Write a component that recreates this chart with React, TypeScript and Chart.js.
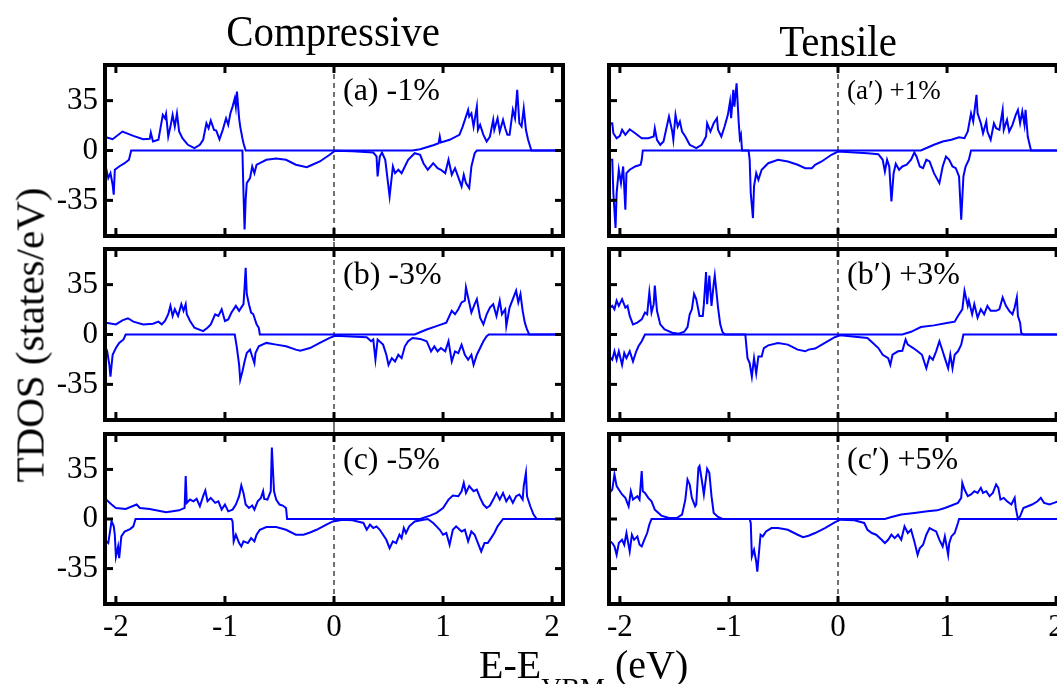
import React, { useEffect, useRef } from 'react';
import { Chart, registerables } from 'chart.js';
Chart.register(...registerables);

// ---------- axes ----------
const E_MIN = -2.1;
const E_MAX = 2.1;
const DOS_MIN = -60;
const DOS_MAX = 60;
const xTickValues = [-2, -1, 0, 1, 2];
const yTickValues = [-35, 0, 35];

// ---------- data: [E - E_VBM (eV), TDOS (states/eV)] ----------
const aUp = [[-2.1,9.3],[-2.09,9.3],[-2.03,7.9],[-1.94,13.3],[-1.84,10.3],[-1.75,7.9],[-1.69,8.2],[-1.68,12.6],[-1.66,6.3],[-1.61,7.5],[-1.57,25.0],[-1.55,22.6],[-1.54,25.7],[-1.52,9.8],[-1.50,16.8],[-1.48,25.0],[-1.46,16.8],[-1.44,26.1],[-1.42,13.3],[-1.39,8.6],[-1.34,4.0],[-1.28,1.6],[-1.23,4.0],[-1.20,7.5],[-1.17,19.1],[-1.15,15.6],[-1.13,21.0],[-1.10,14.5],[-1.08,14.0],[-1.05,7.9],[-1.02,14.5],[-0.99,22.6],[-0.97,18.0],[-0.95,26.1],[-0.93,30.8],[-0.91,36.6],[-0.90,30.8],[-0.89,41.3],[-0.87,22.6],[-0.86,16.8],[-0.84,8.6],[-0.83,5.1],[-0.81,0],[0.72,0],[0.79,0.9],[0.91,3.7],[0.96,5.1],[0.97,9.8],[0.98,5.6],[1.06,7.5],[1.15,11.0],[1.18,16.8],[1.23,28.5],[1.24,23.8],[1.26,26.1],[1.28,16.8],[1.31,30.8],[1.32,14.5],[1.34,18.0],[1.37,11.0],[1.40,6.3],[1.43,9.8],[1.46,21.5],[1.47,14.5],[1.50,22.6],[1.52,13.3],[1.55,21.5],[1.57,15.6],[1.59,11.0],[1.61,11.0],[1.64,28.5],[1.66,22.6],[1.68,42.5],[1.70,19.1],[1.72,16.8],[1.74,29.6],[1.76,14.5],[1.78,7.5],[1.81,0],[2.1,0]];
const aDown = [[-2.1,-12.4],[-2.09,-12.4],[-2.07,-19.4],[-2.05,-15.9],[-2.03,-24.0],[-2.02,-31.0],[-2.01,-13.5],[-1.97,-11.2],[-1.92,-8.9],[-1.88,-6.5],[-1.86,0],[-0.84,0],[-0.83,-29.9],[-0.82,-55.5],[-0.81,-34.5],[-0.80,-22.9],[-0.77,-19.4],[-0.75,-11.2],[-0.73,-15.9],[-0.71,-10.0],[-0.68,-8.9],[-0.62,-6.5],[-0.53,-5.6],[-0.44,-6.5],[-0.35,-10.0],[-0.25,-11.7],[-0.22,-10.7],[-0.13,-7.7],[-0.04,-3.0],[0.01,-0.2],[0.17,-0.5],[0.36,-1.4],[0.39,-4.2],[0.40,-18.2],[0.42,-4.2],[0.44,-1.4],[0.47,-6.5],[0.51,-32.2],[0.54,-11.2],[0.56,-15.9],[0.59,-13.5],[0.62,-15.9],[0.65,-11.2],[0.68,-6.5],[0.74,-1.9],[0.79,-3.0],[0.82,-8.9],[0.86,-13.5],[0.91,-8.9],[0.95,-12.4],[0.98,-13.5],[1.02,-15.9],[1.05,-6.5],[1.08,-17.0],[1.11,-12.4],[1.17,-25.2],[1.19,-17.0],[1.21,-22.9],[1.24,-26.4],[1.26,-11.2],[1.29,-1.9],[1.31,0],[2.1,0]];

const apUp = [[-2.1,19],[-2.07,19.1],[-2.06,12.1],[-2.03,8.6],[-2.00,10.3],[-1.98,14.5],[-1.95,11.0],[-1.91,14.9],[-1.86,12.1],[-1.80,8.6],[-1.74,8.6],[-1.69,9.8],[-1.68,15.6],[-1.66,7.5],[-1.63,4.0],[-1.60,6.3],[-1.57,16.8],[-1.55,23.8],[-1.52,13.3],[-1.51,7.5],[-1.49,25.0],[-1.47,16.8],[-1.45,20.3],[-1.43,13.3],[-1.40,9.8],[-1.36,4.0],[-1.30,1.6],[-1.25,4.0],[-1.21,9.8],[-1.20,19.1],[-1.17,13.3],[-1.14,19.1],[-1.11,22.6],[-1.10,14.5],[-1.07,9.8],[-1.04,16.8],[-1.01,25.0],[-0.99,34.3],[-0.98,22.6],[-0.96,42.5],[-0.95,30.8],[-0.93,47.1],[-0.91,19.1],[-0.90,8.6],[-0.89,11.0],[-0.88,0],[0.76,0],[0.88,4.0],[0.96,6.3],[1.04,7.5],[1.11,9.3],[1.16,8.6],[1.19,13.3],[1.22,26.1],[1.24,20.3],[1.27,39.0],[1.28,26.1],[1.31,19.1],[1.33,12.1],[1.36,20.3],[1.37,13.3],[1.40,7.5],[1.43,19.1],[1.45,15.6],[1.48,14.5],[1.51,28.5],[1.52,14.5],[1.55,21.5],[1.57,13.3],[1.60,18.0],[1.63,25.0],[1.65,28.5],[1.67,19.1],[1.69,27.3],[1.71,18.0],[1.72,28.5],[1.74,9.8],[1.77,0],[2.1,0]];
const apDown = [[-2.1,-6.5],[-2.07,-6.5],[-2.06,-29.9],[-2.04,-54.4],[-2.03,-29.9],[-2.01,-13.5],[-1.99,-22.9],[-1.97,-11.2],[-1.95,-41.5],[-1.94,-15.9],[-1.91,-13.5],[-1.86,-11.2],[-1.81,-10.0],[-1.80,-6.5],[-1.79,0],[-0.82,0],[-0.81,-6.5],[-0.80,-29.9],[-0.78,-47.4],[-0.77,-25.2],[-0.75,-15.9],[-0.73,-20.5],[-0.70,-13.5],[-0.67,-11.2],[-0.64,-8.9],[-0.55,-6.5],[-0.46,-7.7],[-0.37,-10.0],[-0.30,-12.4],[-0.24,-12.4],[-0.21,-10.0],[-0.15,-7.7],[-0.06,-3.0],[0.00,-0.7],[0.27,-1.9],[0.37,-2.6],[0.41,-6.5],[0.43,-14.7],[0.45,-6.5],[0.47,-11.2],[0.49,-35.7],[0.51,-15.9],[0.53,-9.3],[0.56,-13.5],[0.59,-11.2],[0.63,-10.0],[0.67,-6.5],[0.70,-1.4],[0.72,-4.2],[0.75,-11.2],[0.78,-12.4],[0.81,-6.5],[0.84,-7.7],[0.88,-15.9],[0.93,-22.9],[0.96,-11.2],[0.99,-4.2],[1.02,-6.5],[1.05,-11.2],[1.08,-12.4],[1.11,-18.2],[1.13,-48.5],[1.15,-18.2],[1.17,-11.2],[1.20,-6.5],[1.22,0],[2.1,0]];

const bUp = [[-2.1,8.3],[-2.09,8.3],[-2.00,7.1],[-1.94,9.9],[-1.89,11.4],[-1.84,9.0],[-1.75,7.1],[-1.66,7.6],[-1.61,9.0],[-1.58,7.1],[-1.55,9.5],[-1.52,14.2],[-1.50,20.1],[-1.48,13.0],[-1.46,17.7],[-1.43,13.0],[-1.40,21.3],[-1.38,16.6],[-1.36,21.3],[-1.35,14.2],[-1.32,9.5],[-1.28,4.7],[-1.20,2.4],[-1.16,4.7],[-1.13,7.1],[-1.09,14.2],[-1.06,13.0],[-1.03,17.7],[-1.00,9.5],[-0.97,10.6],[-0.94,15.4],[-0.90,20.1],[-0.87,16.6],[-0.83,21.3],[-0.82,33.1],[-0.81,46.8],[-0.80,28.4],[-0.78,21.3],[-0.76,15.4],[-0.74,14.2],[-0.71,7.1],[-0.69,4.7],[-0.68,0],[0.74,0],[0.85,3.5],[0.94,5.9],[1.03,8.3],[1.08,16.6],[1.11,14.2],[1.14,17.7],[1.17,22.5],[1.20,23.7],[1.21,33.1],[1.24,22.5],[1.26,15.4],[1.29,21.3],[1.31,24.8],[1.34,11.8],[1.37,7.1],[1.40,14.2],[1.43,18.9],[1.46,21.3],[1.49,13.0],[1.52,23.7],[1.54,14.2],[1.57,17.7],[1.58,5.9],[1.61,18.9],[1.64,24.8],[1.67,30.7],[1.69,22.5],[1.71,28.4],[1.73,16.6],[1.75,8.3],[1.77,3.5],[1.79,0],[2.1,0]];
const bDown = [[-2.1,-8],[-2.08,-11.8],[-2.06,-21.3],[-2.05,-29.6],[-2.03,-14.2],[-2.00,-9.5],[-1.97,-5.9],[-1.93,-3.5],[-1.91,0],[-0.91,0],[-0.89,-9.5],[-0.87,-21.3],[-0.86,-31.9],[-0.84,-26.0],[-0.82,-18.9],[-0.80,-13.0],[-0.77,-10.6],[-0.75,-15.4],[-0.73,-20.1],[-0.72,-13.0],[-0.69,-8.3],[-0.62,-5.9],[-0.53,-7.1],[-0.44,-8.3],[-0.35,-10.6],[-0.31,-11.4],[-0.22,-9.5],[-0.13,-5.9],[-0.04,-2.4],[0.01,-0.9],[0.30,-1.9],[0.34,-4.7],[0.36,-3.5],[0.38,-17.7],[0.40,-3.5],[0.45,-7.1],[0.48,-14.2],[0.50,-21.3],[0.53,-16.6],[0.56,-18.9],[0.59,-14.2],[0.62,-16.6],[0.65,-8.3],[0.68,-4.7],[0.72,-2.4],[0.79,-3.1],[0.85,-4.7],[0.89,-11.8],[0.92,-8.3],[0.95,-11.8],[0.98,-9.5],[1.02,-11.8],[1.05,-4.7],[1.08,-18.9],[1.11,-11.8],[1.14,-13.0],[1.17,-7.1],[1.20,-14.2],[1.23,-17.7],[1.26,-14.2],[1.28,-21.3],[1.31,-14.2],[1.34,-9.5],[1.37,-4.7],[1.40,-1.2],[1.42,0],[2.1,0]];

const bpUp = [[-2.1,18],[-2.07,20.1],[-2.05,17.7],[-2.03,23.7],[-2.01,20.1],[-1.98,24.8],[-1.95,18.9],[-1.93,20.1],[-1.91,13.0],[-1.88,7.1],[-1.84,8.3],[-1.80,10.6],[-1.77,15.4],[-1.75,14.2],[-1.73,29.6],[-1.71,15.4],[-1.69,21.3],[-1.68,34.3],[-1.66,16.6],[-1.63,7.1],[-1.59,3.5],[-1.52,1.2],[-1.46,0.5],[-1.41,1.9],[-1.38,5.2],[-1.36,14.2],[-1.34,17.7],[-1.32,28.4],[-1.30,24.8],[-1.27,13.0],[-1.24,13.0],[-1.23,21.3],[-1.21,43.8],[-1.20,21.3],[-1.18,41.4],[-1.16,20.1],[-1.14,35.5],[-1.13,41.4],[-1.10,18.9],[-1.08,7.1],[-1.06,1.9],[-1.04,0],[0.59,0],[0.67,1.9],[0.76,5.2],[0.88,6.4],[1.01,8.3],[1.07,9.0],[1.10,13.0],[1.14,17.7],[1.16,30.7],[1.19,20.1],[1.20,23.7],[1.23,14.2],[1.25,21.3],[1.28,11.8],[1.31,17.7],[1.34,14.2],[1.37,20.1],[1.40,16.6],[1.45,16.6],[1.48,17.7],[1.51,26.0],[1.54,20.1],[1.57,16.6],[1.60,14.2],[1.62,18.9],[1.64,26.0],[1.65,13.0],[1.67,8.3],[1.68,1.2],[1.70,0],[2.1,0]];
const bpDown = [[-2.1,-15],[-2.07,-17.7],[-2.05,-11.8],[-2.03,-17.7],[-2.01,-11.8],[-1.98,-21.3],[-1.96,-13.0],[-1.94,-16.6],[-1.91,-11.8],[-1.88,-18.9],[-1.85,-11.8],[-1.83,-8.3],[-1.80,-4.7],[-1.77,0],[-0.85,0],[-0.83,-16.6],[-0.81,-20.1],[-0.79,-29.6],[-0.77,-16.6],[-0.75,-27.2],[-0.73,-15.4],[-0.70,-15.4],[-0.68,-9.5],[-0.64,-7.6],[-0.55,-5.9],[-0.46,-7.1],[-0.37,-10.6],[-0.30,-11.8],[-0.27,-10.6],[-0.21,-9.9],[-0.12,-5.9],[-0.03,-1.9],[0.02,-0.5],[0.27,-2.4],[0.32,-5.9],[0.37,-9.5],[0.41,-14.2],[0.46,-16.6],[0.48,-21.3],[0.50,-14.2],[0.55,-11.8],[0.59,-11.4],[0.62,-3.5],[0.64,-7.1],[0.69,-9.5],[0.73,-11.8],[0.77,-14.2],[0.81,-23.7],[0.84,-15.4],[0.87,-17.7],[0.90,-11.8],[0.93,-4.7],[0.96,-11.8],[0.98,-16.6],[1.01,-23.7],[1.03,-14.2],[1.05,-23.7],[1.07,-14.2],[1.10,-11.8],[1.13,-7.1],[1.15,0],[2.1,0]];

const cUp = [[-2.1,14.5],[-2.09,13.7],[-2.04,10.2],[-2.00,7.8],[-1.91,7.1],[-1.81,10.2],[-1.78,7.8],[-1.69,7.1],[-1.54,4.7],[-1.42,6.1],[-1.37,7.8],[-1.36,30.3],[-1.35,11.4],[-1.32,13.7],[-1.29,12.5],[-1.26,14.2],[-1.23,9.0],[-1.20,16.1],[-1.18,20.1],[-1.16,12.5],[-1.13,14.9],[-1.09,11.4],[-1.06,12.5],[-1.03,6.6],[-1.00,10.2],[-0.97,5.4],[-0.93,6.6],[-0.90,10.2],[-0.87,16.1],[-0.85,23.7],[-0.83,18.4],[-0.81,10.2],[-0.78,7.8],[-0.75,9.5],[-0.73,6.6],[-0.70,12.5],[-0.67,14.9],[-0.65,19.6],[-0.64,14.2],[-0.61,13.7],[-0.58,19.6],[-0.57,50.4],[-0.55,19.6],[-0.53,13.7],[-0.50,10.2],[-0.47,9.5],[-0.44,7.8],[-0.43,0],[0.79,0],[0.88,2.4],[0.94,4.3],[1.00,7.8],[1.05,13.7],[1.09,16.6],[1.14,16.1],[1.17,19.6],[1.19,25.5],[1.21,18.4],[1.24,23.2],[1.28,19.6],[1.31,20.8],[1.34,14.9],[1.37,10.2],[1.40,7.8],[1.43,9.5],[1.46,13.7],[1.49,18.4],[1.52,13.7],[1.55,18.4],[1.58,12.5],[1.61,16.1],[1.64,11.4],[1.67,16.1],[1.70,17.3],[1.73,13.7],[1.74,23.2],[1.76,32.6],[1.77,16.1],[1.80,9.0],[1.83,3.1],[1.86,0],[2.1,0]];
const cDown = [[-2.1,-15],[-2.07,-17.0],[-2.04,-1.5],[-2.02,-5.0],[-2.01,-11.1],[-2.00,-26.5],[-1.98,-19.4],[-1.97,-27.7],[-1.95,-12.3],[-1.92,-8.8],[-1.87,-7.1],[-1.84,-5.2],[-1.82,0],[-0.94,0],[-0.93,-1.7],[-0.92,-15.8],[-0.90,-11.1],[-0.87,-17.0],[-0.85,-19.4],[-0.83,-15.8],[-0.79,-17.0],[-0.76,-13.5],[-0.73,-15.8],[-0.71,-11.1],[-0.68,-7.6],[-0.62,-5.7],[-0.53,-5.7],[-0.44,-7.6],[-0.35,-11.1],[-0.28,-11.1],[-0.22,-9.5],[-0.16,-7.6],[-0.13,-6.4],[-0.07,-4.0],[-0.01,-1.7],[0.08,-0.5],[0.17,-0.9],[0.27,-2.8],[0.30,-7.6],[0.33,-4.0],[0.36,-6.4],[0.39,-5.2],[0.42,-7.6],[0.45,-11.1],[0.48,-14.7],[0.51,-20.6],[0.54,-15.8],[0.57,-17.0],[0.60,-11.1],[0.62,-13.5],[0.64,-6.4],[0.66,-9.9],[0.69,-5.2],[0.74,-1.7],[0.82,-0.5],[0.86,0],[0.91,-2.8],[0.94,-5.2],[0.97,-7.6],[1.00,-11.1],[1.03,-9.9],[1.06,-18.2],[1.09,-7.6],[1.12,-5.2],[1.17,-8.8],[1.20,-7.6],[1.23,-15.8],[1.26,-8.8],[1.29,-11.1],[1.32,-17.0],[1.35,-22.9],[1.38,-17.0],[1.41,-17.0],[1.44,-13.5],[1.47,-9.9],[1.50,-5.2],[1.55,0],[2.1,0]];

const cpUp = [[-2.1,18],[-2.07,20.8],[-2.05,31.5],[-2.03,23.2],[-2.01,20.8],[-1.98,17.3],[-1.95,14.9],[-1.92,9.0],[-1.90,19.6],[-1.88,13.7],[-1.84,16.1],[-1.82,13.7],[-1.80,33.8],[-1.79,19.6],[-1.77,18.4],[-1.74,14.9],[-1.71,12.5],[-1.68,6.6],[-1.62,2.4],[-1.55,0.7],[-1.48,0.7],[-1.43,3.1],[-1.40,13.7],[-1.38,27.9],[-1.36,24.4],[-1.34,14.9],[-1.31,9.0],[-1.30,10.2],[-1.28,36.2],[-1.27,37.4],[-1.25,27.9],[-1.23,17.3],[-1.20,35.5],[-1.18,32.6],[-1.16,16.1],[-1.14,4.3],[-1.10,1.4],[-1.06,0],[0.43,0],[0.49,1.4],[0.58,3.1],[0.70,4.3],[0.82,5.4],[0.91,6.1],[0.98,7.8],[1.04,9.5],[1.10,11.4],[1.13,14.9],[1.14,25.5],[1.16,20.8],[1.19,16.1],[1.22,17.3],[1.25,19.6],[1.28,18.4],[1.31,22.0],[1.33,18.4],[1.36,19.6],[1.39,16.1],[1.42,18.4],[1.45,24.4],[1.47,22.0],[1.49,13.7],[1.52,14.9],[1.55,12.5],[1.59,10.2],[1.62,14.9],[1.63,7.8],[1.65,0],[1.67,1.9],[1.70,7.8],[1.74,9.0],[1.78,10.2],[1.83,12.5],[1.86,14.9],[1.89,11.4],[1.94,10.2],[1.98,11.4],[2.02,12.5],[2.1,11]];
const cpDown = [[-2.1,-15],[-2.07,-17.0],[-2.05,-19.4],[-2.03,-25.3],[-2.01,-17.0],[-1.98,-14.7],[-1.96,-18.2],[-1.94,-9.9],[-1.91,-22.9],[-1.89,-11.1],[-1.87,-14.7],[-1.84,-12.3],[-1.82,-18.2],[-1.80,-19.4],[-1.77,-13.5],[-1.75,-9.9],[-1.73,-4.0],[-1.71,0],[-0.81,0],[-0.80,-2.8],[-0.79,-26.5],[-0.77,-21.8],[-0.75,-30.0],[-0.74,-37.1],[-0.72,-19.4],[-0.71,-11.1],[-0.69,-12.3],[-0.66,-8.8],[-0.61,-6.4],[-0.55,-6.4],[-0.46,-7.6],[-0.37,-11.1],[-0.32,-12.8],[-0.27,-11.8],[-0.21,-9.9],[-0.12,-6.4],[-0.03,-2.4],[0.02,-0.5],[0.15,-0.9],[0.24,-2.8],[0.27,-7.6],[0.31,-9.9],[0.35,-11.1],[0.40,-14.7],[0.43,-17.0],[0.46,-14.7],[0.49,-11.1],[0.52,-13.5],[0.55,-11.1],[0.58,-14.7],[0.61,-5.2],[0.64,-9.9],[0.67,-7.6],[0.70,-15.8],[0.73,-25.3],[0.75,-20.6],[0.78,-18.2],[0.81,-11.1],[0.84,-6.4],[0.87,-7.6],[0.90,-8.8],[0.93,-14.7],[0.96,-19.4],[0.98,-12.3],[1.01,-25.3],[1.02,-17.0],[1.04,-12.3],[1.07,-9.9],[1.10,-2.8],[1.11,0],[2.1,0]];

const panelLabels = ['(a) -1%', '(a′) +1%', '(b) -3%', '(b′) +3%', '(c) -5%', '(c′) +5%'];
const panelSeries = [[aUp, aDown], [apUp, apDown], [bUp, bDown], [bpUp, bpDown], [cUp, cDown], [cpUp, cpDown]];

// ---------- layout ----------
const COL_LEFT = [0, 504];
const CANVAS_W = 570;
const Y_AXIS_W = 105;
const PAD_RIGHT = 7;
const ROW_AREA = [[65, 236], [249, 420], [434, 604]];
const PAD_TOP = 10;
const X_AXIS_H_BOTTOM = 60;
const SERIF = '"Liberation Serif", "Times New Roman", serif';

const framePlugin = {
  id: 'frame',
  beforeDatasetsDraw(chart: any, _args: any, opts: any) {
    const { ctx, chartArea: a, scales } = chart;
    const x0 = scales.x.getPixelForValue(0);
    ctx.save();
    ctx.setLineDash([5, 4]);
    ctx.strokeStyle = '#444';
    ctx.lineWidth = 1.5;
    ctx.beginPath();
    ctx.moveTo(x0, a.top - opts.extTop);
    ctx.lineTo(x0, a.bottom + opts.extBottom);
    ctx.stroke();
    ctx.restore();
  },
  afterDatasetsDraw(chart: any, _args: any, opts: any) {
    const { ctx, chartArea: a, scales } = chart;
    const xs = scales.x, ys = scales.y;
    ctx.save();
    ctx.strokeStyle = '#000';
    ctx.lineWidth = 3;
    const seg = (x1: number, y1: number, x2: number, y2: number) => {
      ctx.beginPath(); ctx.moveTo(x1, y1); ctx.lineTo(x2, y2); ctx.stroke();
    };
    const tl = 8;
    for (const v of xTickValues) {
      const px = xs.getPixelForValue(v);
      seg(px, a.bottom, px, a.bottom - tl);
      seg(px, a.top, px, a.top + tl);
    }
    for (const v of yTickValues) {
      const py = ys.getPixelForValue(v);
      seg(a.left, py, a.left + tl, py);
      seg(a.right, py, a.right - tl, py);
    }
    ctx.lineWidth = 4;
    ctx.strokeRect(a.left, a.top, a.right - a.left, a.bottom - a.top);
    ctx.fillStyle = '#000';
    ctx.font = `${opts.fontSize}px ${SERIF}`;
    ctx.textAlign = 'left';
    ctx.textBaseline = 'middle';
    ctx.fillText(opts.label, xs.getPixelForValue(0) + 9, a.top + 27);
    ctx.restore();
  },
};

function buildConfig(idx: number): any {
  const row = Math.floor(idx / 2);
  const col = idx % 2;
  const [up, down] = panelSeries[idx];
  const isBottom = row === 2;
  const ds = (pts: number[][]) => ({
    data: pts.map(([x, y]) => ({ x, y })),
    borderColor: '#0000ff',
    borderWidth: 2,
    pointRadius: 0,
    tension: 0,
    fill: false,
  });
  const tickFont = { family: SERIF, size: 31 };
  return {
    type: 'line',
    data: { datasets: [ds(up), ds(down)] },
    options: {
      animation: false,
      responsive: false,
      maintainAspectRatio: false,
      events: [],
      layout: { padding: { top: PAD_TOP, right: PAD_RIGHT, bottom: isBottom ? 0 : 10, left: 0 } },
      plugins: {
        legend: { display: false },
        tooltip: { enabled: false },
        frame: {
          label: panelLabels[idx],
          fontSize: idx === 1 ? 27 : 32,
          extTop: row === 0 ? 0 : 7,
          extBottom: row === 2 ? 0 : 7,
        },
      },
      scales: {
        x: {
          type: 'linear',
          min: E_MIN,
          max: E_MAX,
          grid: { display: false, drawTicks: false },
          border: { display: false },
          ticks: { display: isBottom, font: tickFont, color: '#000', padding: 5, maxRotation: 0 },
          afterBuildTicks: (s: any) => { s.ticks = xTickValues.map((v) => ({ value: v })); },
          afterFit: (s: any) => {
            s.height = isBottom ? X_AXIS_H_BOTTOM : 0;
            s.paddingLeft = 0; s.paddingRight = 0; s.paddingTop = 0; s.paddingBottom = 0;
          },
        },
        y: {
          type: 'linear',
          min: DOS_MIN,
          max: DOS_MAX,
          grid: { display: false, drawTicks: false },
          border: { display: false },
          ticks: { display: col === 0, font: tickFont, color: '#000', padding: 7 },
          afterBuildTicks: (s: any) => { s.ticks = yTickValues.map((v) => ({ value: v })); },
          afterFit: (s: any) => {
            s.width = Y_AXIS_W;
            s.paddingLeft = 0; s.paddingRight = 0; s.paddingTop = 0; s.paddingBottom = 0;
          },
        },
      },
    },
    plugins: [framePlugin],
  };
}

function canvasBox(idx: number) {
  const row = Math.floor(idx / 2);
  const col = idx % 2;
  const [t, b] = ROW_AREA[row];
  const top = t - PAD_TOP;
  const height = PAD_TOP + (b - t) + (row === 2 ? X_AXIS_H_BOTTOM : 10);
  return { left: COL_LEFT[col], top, width: CANVAS_W, height };
}

export default function App() {
  const refs = useRef<(HTMLCanvasElement | null)[]>([]);
  useEffect(() => {
    const charts = refs.current.map((c, i) => (c ? new Chart(c, buildConfig(i)) : null));
    return () => { charts.forEach((ch) => ch && ch.destroy()); };
  }, []);

  const textBase: React.CSSProperties = {
    position: 'absolute',
    fontFamily: SERIF,
    color: '#000',
    whiteSpace: 'nowrap',
    lineHeight: 1,
  };

  return (
    <div style={{ position: 'fixed', left: 0, top: 0, width: 1057, height: 684, overflow: 'hidden', background: '#fff' }}>
      {panelLabels.map((_, i) => {
        const box = canvasBox(i);
        return (
          <canvas
            key={i}
            ref={(el) => { refs.current[i] = el; }}
            width={box.width}
            height={box.height}
            style={{ position: 'absolute', left: box.left, top: box.top, width: box.width, height: box.height }}
          />
        );
      })}
      <div style={{ ...textBase, left: 333, top: 10, fontSize: 44, transform: 'translateX(-50%) scaleX(0.93)' }}>Compressive</div>
      <div style={{ ...textBase, left: 838, top: 20, fontSize: 44, transform: 'translateX(-50%) scaleX(0.93)' }}>Tensile</div>
      <div style={{ ...textBase, left: 30, top: 335, fontSize: 41, transform: 'translate(-50%, -50%) rotate(-90deg)' }}>TDOS (states/eV)</div>
      <div style={{ ...textBase, left: 479, top: 645, fontSize: 40 }}>
        E-E<span style={{ fontSize: 28, position: 'relative', top: 19 }}>VBM</span> (eV)
      </div>
    </div>
  );
}
